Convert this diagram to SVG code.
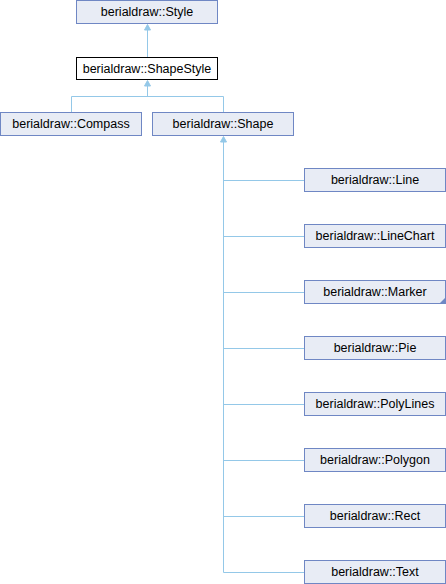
<svg xmlns="http://www.w3.org/2000/svg" width="446" height="584" viewBox="0 0 446 584">
<defs>
<style>
.n rect{fill:#e8ecf5;stroke:#6f87c4;stroke-width:1}
.cur rect{fill:#ffffff;stroke:#000000}
.n text{font-family:"Liberation Sans",Arial,sans-serif;font-size:12.5px;fill:#000;text-anchor:middle}
.e{fill:none;stroke:#94c8e8;stroke-width:1}
.ah{fill:#94c8e8;stroke:#94c8e8}
</style>
</defs>
<rect width="446" height="584" fill="#ffffff"/>
<g id="edges">
<path class="e" d="M147.5,80 V30"/>
<path class="ah" d="M147.5,24.5 L144.5,30 L150.5,30 z"/>
<path class="e" d="M71.5,112 V96.5 H223.5 V112"/>
<path class="e" d="M147.5,96.5 V86"/>
<path class="ah" d="M147.5,80.5 L144.5,86 L150.5,86 z"/>
<path class="e" d="M223.5,572.5 V142"/>
<path class="ah" d="M223.5,136.5 L220.5,142 L226.5,142 z"/>
<path class="e" d="M223.5,180.5 H304 M223.5,236.5 H304 M223.5,292.5 H304 M223.5,348.5 H304 M223.5,404.5 H304 M223.5,460.5 H304 M223.5,516.5 H304 M223.5,572.5 H304"/>
</g>
<g id="node-Style" class="n"><rect x="76.5" y="0.5" width="141" height="23"/><text x="147" y="16">berialdraw::Style</text></g>
<g id="node-ShapeStyle" class="n cur"><rect x="76.5" y="57.5" width="141" height="22"/><text x="147" y="72.5">berialdraw::ShapeStyle</text></g>
<g id="node-Compass" class="n"><rect x="0.5" y="112.5" width="141" height="23"/><text x="71" y="128">berialdraw::Compass</text></g>
<g id="node-Shape" class="n"><rect x="152.5" y="112.5" width="141" height="23"/><text x="223" y="128">berialdraw::Shape</text></g>
<g id="node-Line" class="n"><rect x="304.5" y="168.5" width="141" height="23"/><text x="375" y="184">berialdraw::Line</text></g>
<g id="node-LineChart" class="n"><rect x="304.5" y="224.5" width="141" height="23"/><text x="375" y="240">berialdraw::LineChart</text></g>
<g id="node-Marker" class="n"><rect x="304.5" y="280.5" width="141" height="23"/><text x="375" y="296">berialdraw::Marker</text><path d="M446,297 L446,304 L439,304 z" fill="#6f87c4"/></g>
<g id="node-Pie" class="n"><rect x="304.5" y="336.5" width="141" height="23"/><text x="375" y="352">berialdraw::Pie</text></g>
<g id="node-PolyLines" class="n"><rect x="304.5" y="392.5" width="141" height="23"/><text x="375" y="408">berialdraw::PolyLines</text></g>
<g id="node-Polygon" class="n"><rect x="304.5" y="448.5" width="141" height="23"/><text x="375" y="464">berialdraw::Polygon</text></g>
<g id="node-Rect" class="n"><rect x="304.5" y="504.5" width="141" height="23"/><text x="375" y="520">berialdraw::Rect</text></g>
<g id="node-Text" class="n"><rect x="304.5" y="560.5" width="141" height="23"/><text x="375" y="576">berialdraw::Text</text></g>
</svg>
